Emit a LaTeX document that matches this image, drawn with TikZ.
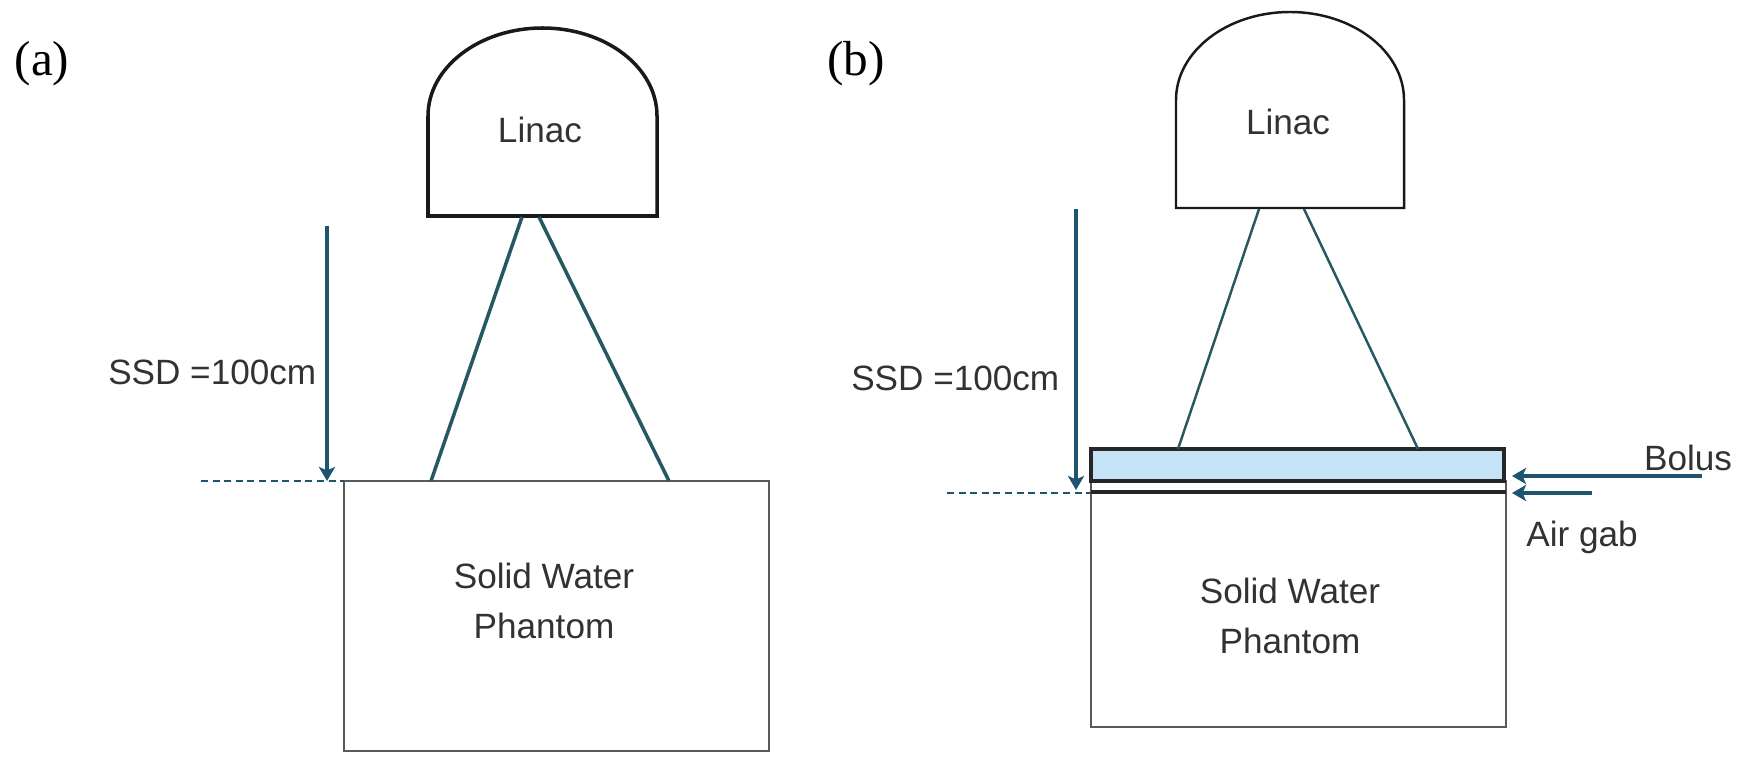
\documentclass[tikz,border=0pt]{standalone}
\usepackage{fontspec}
\setmainfont{Liberation Sans}
\newfontfamily\panelfont{Liberation Serif}
\usetikzlibrary{arrows.meta}

\definecolor{arrowblue}{RGB}{29,84,110}
\definecolor{beamteal}{RGB}{38,88,98}
\definecolor{bolusblue}{RGB}{197,227,246}
\definecolor{textgray}{RGB}{50,50,50}

\begin{document}
\begin{tikzpicture}[
	linac/.style = {draw = black!90, line width = 1pt},
	beam/.style = {draw = beamteal, line width = 1pt},
	phantom/.style = {draw = black!65, line width = 0.55pt},
	ssd/.style = {draw = arrowblue, line width = 1pt, -{Stealth[length = 4pt, width = 4.6pt, inset = 1pt]}},
	level/.style = {draw = arrowblue, line width = 0.7pt, dash pattern = on 2pt off 1.3pt},
	lbl/.style = {text = textgray, font = \fontsize{10}{14.2}\selectfont, inner sep = 0pt, align = center},
	panel/.style = {font = \panelfont\fontsize{14}{16}\selectfont, inner sep = 0pt}
	]
	\useasboundingbox (0,0) rectangle (17.44,7.59);

	% (a) fixed SSD, no bolus
	\node[panel] (pa) at (0.42,6.95) {(a)};
	\draw[linac] (4.28,5.43) -- (4.28,6.43) arc[start angle = 180, end angle = 0, x radius = 1.145, y radius = 0.88] -- (6.57,5.43) -- cycle;
	\node[lbl] (linaca) at (5.40,6.29) {Linac};
	\draw[phantom] (3.44,2.78) rectangle (7.69,0.08);
	\node[lbl] (phantoma) at (5.44,1.58) {Solid Water\\Phantom};
	\coordinate (srcla) at (5.22,5.42);
	\coordinate (srcra) at (5.39,5.42);
	\coordinate (fieldla) at (4.31,2.78);
	\coordinate (fieldra) at (6.69,2.78);
	\draw[beam] (srcla) -- (fieldla);
	\draw[beam] (srcra) -- (fieldra);
	\coordinate (ssdtopa) at (3.27,5.33);
	\coordinate (ssdbota) at (3.27,2.78);
	\coordinate (levela) at (2.01,2.78);
	\coordinate (surfa) at (3.44,2.78);
	\draw[level] (levela) -- (surfa);
	\draw[ssd] (ssdtopa) -- (ssdbota);
	\node[lbl, anchor = east] (ssda) at (3.17,3.87) {SSD =100cm};

	% (b) bolus with air gap
	\node[panel] (pb) at (8.56,6.95) {(b)};
	\draw[linac, line width = 0.7pt] (11.76,5.51) -- (11.76,6.59) arc[start angle = 180, end angle = 0, x radius = 1.14, y radius = 0.88] -- (14.04,5.51) -- cycle;
	\node[lbl] (linacb) at (12.88,6.37) {Linac};
	\draw[phantom] (10.91,2.78) rectangle (15.06,0.32);
	\draw[black!85, line width = 0.9pt] (10.91,2.67) -- (15.06,2.67);
	\node[lbl] (phantomb) at (12.90,1.43) {Solid Water\\Phantom};
	\draw[fill = bolusblue, draw = black!85, line width = 0.9pt] (10.91,3.10) rectangle (15.04,2.78);
	\coordinate (srclb) at (12.59,5.50);
	\coordinate (srcrb) at (13.04,5.50);
	\coordinate (fieldlb) at (11.78,3.10);
	\coordinate (fieldrb) at (14.18,3.10);
	\draw[beam, line width = 0.7pt] (srclb) -- (fieldlb);
	\draw[beam, line width = 0.7pt] (srcrb) -- (fieldrb);
	\coordinate (ssdtopb) at (10.76,5.50);
	\coordinate (ssdbotb) at (10.76,2.69);
	\coordinate (levelb) at (9.47,2.66);
	\coordinate (surfb) at (10.91,2.66);
	\draw[level] (levelb) -- (surfb);
	\draw[ssd] (ssdtopb) -- (ssdbotb);
	\node[lbl, anchor = east] (ssdb) at (10.60,3.81) {SSD =100cm};
	\node[lbl] (bolus) at (16.88,3.01) {Bolus};
	\node[lbl] (airgap) at (15.82,2.22) {Air gab};
	\coordinate (bolustail) at (17.02,2.83);
	\coordinate (bolustip) at (15.12,2.83);
	\coordinate (gaptail) at (15.92,2.66);
	\coordinate (gaptip) at (15.12,2.66);
	\draw[ssd] (bolustail) -- (bolustip);
	\draw[ssd] (gaptail) -- (gaptip);
\end{tikzpicture}
\end{document}
